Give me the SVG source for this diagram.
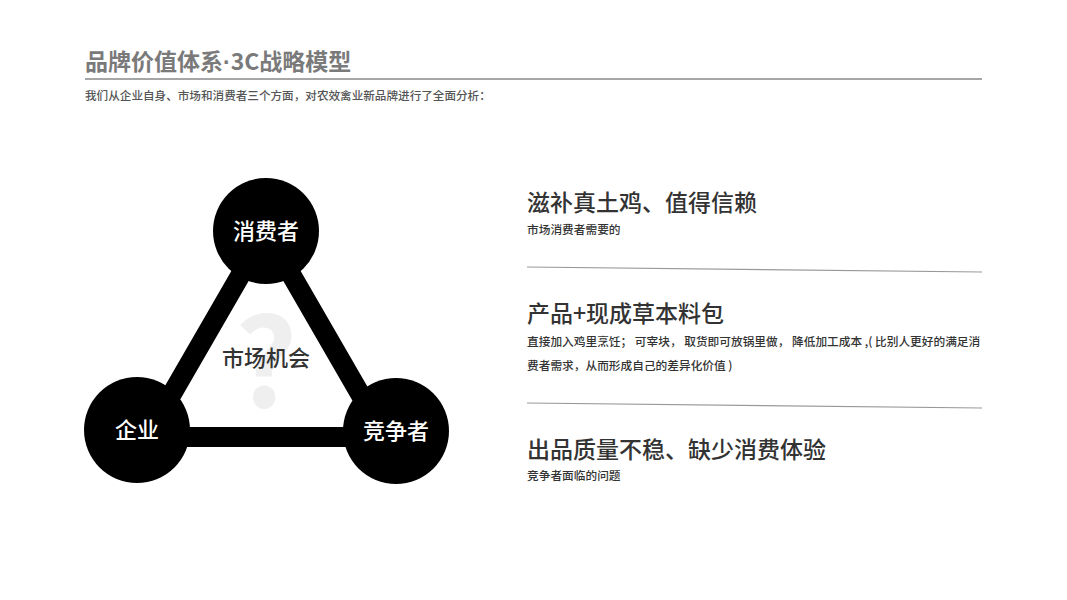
<svg xmlns="http://www.w3.org/2000/svg" width="1067" height="600" viewBox="0 0 1067 600">
<style>
text{font-family:"Noto Sans CJK SC","Noto Sans",sans-serif}
.title{font-size:23px;font-weight:bold;fill:#7a7a7a}
.sub{font-size:11.6px;font-weight:500;fill:#555}
.h{font-size:23px;font-weight:500;fill:#333}
.d{font-size:11.7px;font-weight:500;fill:#333}
.node circle{fill:#000}
.node text{font-size:22px;font-weight:500;fill:#fff;text-anchor:middle}
.sep{stroke:#999;stroke-width:1.2}
</style>
<rect width="1067" height="600" fill="#fff"/>
<text class="title" x="85" y="70">品牌价值体系<tspan font-family="Liberation Sans, sans-serif">·</tspan>3C战略模型</text>
<line x1="85" y1="79" x2="982" y2="79" stroke="#888" stroke-width="1.5"/>
<text class="sub" x="85" y="100">我们从企业自身、市场和消费者三个方面，对农效禽业新品牌进行了全面分析：</text>

<text x="266" y="407" font-family="Liberation Sans, sans-serif" font-size="122" font-weight="bold" fill="#efefef" text-anchor="middle">?</text>
<g id="connectors">
<polygon points="266,231 147,437 385,437" fill="none" stroke="#000" stroke-width="20" stroke-linejoin="miter"/>
</g>
<text x="266" y="366" font-size="22" font-weight="500" fill="#333" text-anchor="middle">市场机会</text>

<g id="node-consumer" class="node">
<circle cx="266" cy="231" r="53"/>
<text x="266" y="239">消费者</text>
</g>
<g id="node-company" class="node">
<circle cx="137" cy="430" r="53"/>
<text x="137" y="438">企业</text>
</g>
<g id="node-competitor" class="node">
<circle cx="396" cy="431" r="53"/>
<text x="396" y="439">竞争者</text>
</g>

<g id="item1">
<text class="h" x="527" y="211">滋补真土鸡、值得信赖</text>
<text class="d" x="527" y="234">市场消费者需要的</text>
</g>
<line class="sep" x1="527" y1="267" x2="982" y2="272"/>
<g id="item2">
<text class="h" x="527" y="322">产品+现成草本料包</text>
<text class="d" x="527" y="346">直接加入鸡里烹饪； 可宰块， 取货即可放锅里做， 降低加工成本 ,( 比别人更好的满足消</text>
<text class="d" x="527" y="370">费者需求，从而形成自己的差异化价值 )</text>
</g>
<line class="sep" x1="527" y1="403" x2="982" y2="408"/>
<g id="item3">
<text class="h" x="527" y="458">出品质量不稳、缺少消费体验</text>
<text class="d" x="527" y="480">竞争者面临的问题</text>
</g>
</svg>
